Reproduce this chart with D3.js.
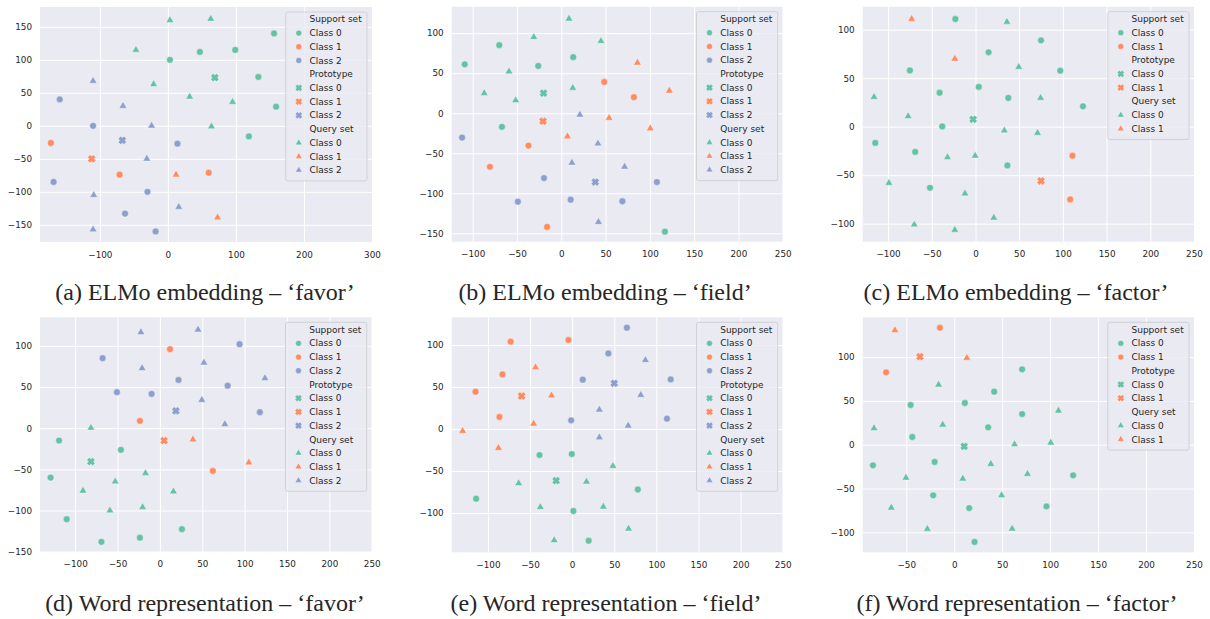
<!DOCTYPE html>
<html>
<head>
<meta charset="utf-8">
<script src="https://cdn.jsdelivr.net/npm/d3@7"></script>
<style>
  body { margin: 0; background: #fff; }
  svg { display: block; }
  text { font-family: "DejaVu Sans", sans-serif; fill: #262626; }
</style>
</head>
<body>
<svg id="fig" width="1210" height="619"></svg>
<script>
// rows: [x, y, class, set]   set: S = support, P = prototype, Q = query
const elmoFavor = [
  [3,100,0,"S"],[47,112,0,"S"],[99,115,0,"S"],[156,140,0,"S"],[133,74,0,"S"],[159,29,0,"S"],[119,-16,0,"S"],
  [-172,-26,1,"S"],[-71,-74,1,"S"],[60,-71,1,"S"],
  [-159,40,2,"S"],[-110,0,2,"S"],[14,-27,2,"S"],[-168,-85,2,"S"],[-30,-100,2,"S"],[-63,-133,2,"S"],[-18,-160,2,"S"],
  [69,73,0,"P"],[-112,-50,1,"P"],[-67,-22,2,"P"],
  [3,160,0,"Q"],[63,162,0,"Q"],[-47,115,0,"Q"],[-21,63,0,"Q"],[32,44,0,"Q"],[95,36,0,"Q"],[64,-1,0,"Q"],
  [12,-74,1,"Q"],[73,-139,1,"Q"],
  [-110,68,2,"Q"],[-66,30,2,"Q"],[-24,0,2,"Q"],[-31,-50,2,"Q"],[-109,-105,2,"Q"],[16,-123,2,"Q"],[-110,-157,2,"Q"]
];
const elmoField = [
  [-70,85,0,"S"],[-109,61,0,"S"],[13.5,70,0,"S"],[-26,59,0,"S"],[-67,-17,0,"S"],[117,-148,0,"S"],
  [48.5,39,1,"S"],[82,20,1,"S"],[-37,-40.5,1,"S"],[-80.5,-67,1,"S"],[-16,-142,1,"S"],
  [-112,-30.5,2,"S"],[-19.5,-81,2,"S"],[-49,-110.5,2,"S"],[10.6,-108,2,"S"],[108,-86,2,"S"],[69,-110,2,"S"],
  [-20,25,0,"P"],[-20.6,-10,1,"P"],[38.4,-86,2,"P"],
  [8.7,118,0,"Q"],[-31,95,0,"Q"],[44.8,90,0,"Q"],[-59,52,0,"Q"],[-87,25,0,"Q"],[13,31.6,0,"Q"],[-51.5,16,0,"Q"],
  [86,63,1,"Q"],[122,28,1,"Q"],[54,-6,1,"Q"],[100.5,-19,1,"Q"],[7,-29,1,"Q"],
  [21,-2,2,"Q"],[41.4,-38,2,"Q"],[12,-62,2,"Q"],[71.5,-67,2,"Q"],[42,-136,2,"Q"]
];
const elmoFactor = [
  [-23,111,0,"S"],[15,76.7,0,"S"],[-75,58,0,"S"],[3.8,41,0,"S"],[-41,35,0,"S"],[37.6,29.6,0,"S"],[-38,0.3,0,"S"],
  [-114.6,-16.8,0,"S"],[-69,-26,0,"S"],[36.5,-40,0,"S"],[-52,-63,0,"S"],[75,89,0,"S"],[97,57.7,0,"S"],[123,21,0,"S"],
  [111,-30,1,"S"],[108.4,-75,1,"S"],
  [-2.7,7.6,0,"P"],[75,-56,1,"P"],
  [36,108,0,"Q"],[-116,30.6,0,"Q"],[-77,10.7,0,"Q"],[33,-4,0,"Q"],[-32,-31.6,0,"Q"],[-0.4,-30,0,"Q"],[-99,-58,0,"Q"],
  [-12,-69,0,"Q"],[21,-94,0,"Q"],[-70,-101,0,"Q"],[-23.6,-106.5,0,"Q"],[49.5,61.5,0,"Q"],[74.5,29.6,0,"Q"],[71,-6.5,0,"Q"],
  [-73,111,1,"Q"],[-23.6,70,1,"Q"]
];
const wordFavor = [
  [-119,-15,0,"S"],[-46,-26.3,0,"S"],[-129,-60,0,"S"],[-110,-110.5,0,"S"],[26,-122.6,0,"S"],[-23.6,-133,0,"S"],[-69,-138,0,"S"],
  [12,96,1,"S"],[-23.6,8.9,1,"S"],[62.5,-52,1,"S"],
  [-67.6,85,2,"S"],[22,58.6,2,"S"],[-50.7,43.7,2,"S"],[-9.8,41.6,2,"S"],[94,102,2,"S"],[80,51.7,2,"S"],[118,19.4,2,"S"],
  [-81.4,-40.5,0,"P"],[5,-15,1,"P"],[18.9,21,2,"P"],
  [-81.4,0.4,0,"Q"],[-17,-54.6,0,"Q"],[-52.7,-64.8,0,"Q"],[-90.8,-76,0,"Q"],[16,-77,0,"Q"],[-59,-100,0,"Q"],[-20.4,-96,0,"Q"],
  [39,-13.8,1,"Q"],[105,-41.7,1,"Q"],
  [-22.4,116.5,2,"Q"],[45,119.7,2,"Q"],[-21,72.8,2,"Q"],[52,79.6,2,"Q"],[124,60.7,2,"Q"],[49.5,34.3,2,"Q"],[76.7,4.8,2,"Q"]
];
const wordField = [
  [-38.7,-31,0,"S"],[-0.4,-29.8,0,"S"],[-114,-83,0,"S"],[1.5,-97.6,0,"S"],[19.6,-133,0,"S"],[78,-72,0,"S"],
  [-73,104,1,"S"],[-4.4,106,1,"S"],[-82.7,65,1,"S"],[-114.7,44.4,1,"S"],[-86.3,14.3,1,"S"],
  [12.6,58.7,2,"S"],[-1.2,10.3,2,"S"],[65,120.6,2,"S"],[43,90,2,"S"],[117,59,2,"S"],[112.6,12.3,2,"S"],
  [-19,-61.5,0,"P"],[-60,39.3,1,"P"],[50,54.4,2,"P"],
  [-63.5,-64.7,0,"Q"],[17,-62.7,0,"Q"],[-37.8,-93,0,"Q"],[-21.3,-132.5,0,"Q"],[48.4,-44,0,"Q"],[37,-92.5,0,"Q"],[67,-118.7,0,"Q"],
  [-43.4,73.4,1,"Q"],[-24.5,40,1,"Q"],[-45.7,6.3,1,"Q"],[-130,-2.4,1,"Q"],[-87.5,-22.6,1,"Q"],
  [87,82,2,"Q"],[81.5,40.5,2,"Q"],[32.3,23,2,"Q"],[66.5,4,2,"Q"],[32.3,-10,2,"Q"]
];
const wordFactor = [
  [41.7,60.5,0,"S"],[-45.4,45.3,0,"S"],[11.1,47.6,0,"S"],[35.4,19.8,0,"S"],[-43.7,8.8,0,"S"],[-84.7,-23.5,0,"S"],[-20.4,-19.7,0,"S"],
  [-21.9,-57.8,0,"S"],[15.6,-72.3,0,"S"],[21.2,-111,0,"S"],[70.8,86,0,"S"],[70.8,35,0,"S"],[124,-35,0,"S"],[96.2,-70.4,0,"S"],
  [-14.9,133.6,1,"S"],[-71,82.6,1,"S"],
  [10.4,-1.9,0,"P"],[-35.7,100.5,1,"P"],
  [-16.3,68.5,0,"Q"],[-83.6,18.7,0,"Q"],[-12,22.8,0,"Q"],[38.2,-22,0,"Q"],[-50.3,-37.7,0,"Q"],[9,-38.8,0,"Q"],[49.4,-57.8,0,"Q"],
  [-65.6,-71.9,0,"Q"],[-28,-96.2,0,"Q"],[108.7,38.8,0,"Q"],[62.9,0.4,0,"Q"],[100.7,2.3,0,"Q"],[76.4,-33.4,0,"Q"],[60.4,-95.9,0,"Q"],
  [-61.8,130.6,1,"Q"],[13.2,99,1,"Q"]
];

const classNames = ["Class 0", "Class 1", "Class 2"];
const setKeys = ["S", "P", "Q"];
const setTitles = ["Support set", "Prototype", "Query set"];
const captions = [
  "(a) ELMo embedding \u2013 \u2018favor\u2019",
  "(b) ELMo embedding \u2013 \u2018field\u2019",
  "(c) ELMo embedding \u2013 \u2018factor\u2019",
  "(d) Word representation \u2013 \u2018favor\u2019",
  "(e) Word representation \u2013 \u2018field\u2019",
  "(f) Word representation \u2013 \u2018factor\u2019"
];

const palette = ["#66c2a5", "#fc8d62", "#8da0cb"];

// plot boxes and axis limits
const panels = [
  { data: elmoFavor, nc: 3, box: [40, 7, 372, 242], xd: [-188, 300], yd: [-176, 180],
    xt: [-100, 0, 100, 200, 300], yt: [-150, -100, -50, 0, 50, 100, 150], cx: 205, cy: 300 },
  { data: elmoField, nc: 3, box: [451.7, 6.7, 782.7, 241.7], xd: [-123.7, 250], yd: [-160.5, 133],
    xt: d3.range(-100, 251, 50), yt: d3.range(-150, 101, 50), cx: 605, cy: 300 },
  { data: elmoFactor, nc: 2, box: [862.7, 6.7, 1194, 241.7], xd: [-129, 250], yd: [-118.6, 123.7],
    xt: d3.range(-100, 251, 50), yt: d3.range(-100, 101, 50), cx: 1016, cy: 300 },
  { data: wordFavor, nc: 3, box: [40, 317.3, 371.7, 551.7], xd: [-141.5, 250], yd: [-150, 134.7],
    xt: d3.range(-100, 251, 50), yt: d3.range(-150, 101, 50), cx: 205, cy: 611 },
  { data: wordField, nc: 3, box: [451.7, 317.3, 782.7, 552.3], xd: [-143, 250], yd: [-146.8, 133],
    xt: d3.range(-100, 251, 50), yt: d3.range(-100, 101, 50), cx: 606, cy: 611 },
  { data: wordFactor, nc: 2, box: [862.7, 317.3, 1194, 552.3], xd: [-95.4, 250], yd: [-122.8, 145.4],
    xt: d3.range(-50, 251, 50), yt: d3.range(-100, 101, 50), cx: 1017, cy: 611 }
];

const svg = d3.select("#fig");

// filled "X" marker like matplotlib's
function xPath(s, w) {
  const pts = [[-w,-s],[w,-s],[w,-w],[s,-w],[s,w],[w,w],[w,s],[-w,s],[-w,w],[-s,w],[-s,-w],[-w,-w]];
  const c = Math.SQRT1_2;
  return "M" + pts.map(([a, b]) => [(a - b) * c, (a + b) * c].map(v => v.toFixed(2)).join(",")).join("L") + "Z";
}
const tri = d3.symbol().type(d3.symbolTriangle);

function marker(sel, set, scale) {
  if (set === "S") return sel.append("circle").attr("r", 3.4 * scale);
  if (set === "P") return sel.append("path").attr("d", xPath(4.1 * scale, 1.8 * scale));
  return sel.append("path").attr("d", tri.size(26 * scale * scale)());
}

panels.forEach((p, i) => {
  const [x0, y0, x1, y1] = p.box;
  const x = d3.scaleLinear().domain(p.xd).range([x0, x1]);
  const y = d3.scaleLinear().domain(p.yd).range([y1, y0]);
  const g = svg.append("g");

  g.append("rect")
    .attr("x", x0).attr("y", y0)
    .attr("width", x1 - x0).attr("height", y1 - y0)
    .attr("fill", "#eaeaf2");

  const styleAxis = s => {
    s.select(".domain").remove();
    s.selectAll(".tick line").attr("stroke", "#fff").attr("stroke-width", 1);
    s.selectAll(".tick text").style("font-size", "8.8px").attr("fill", "#262626");
  };

  g.append("g")
    .attr("transform", `translate(0,${y1})`)
    .call(d3.axisBottom(x).tickValues(p.xt).tickSize(-(y1 - y0)).tickSizeOuter(0).tickPadding(9.5))
    .call(styleAxis);

  g.append("g")
    .attr("transform", `translate(${x0},0)`)
    .call(d3.axisLeft(y).tickValues(p.yt).tickSize(-(x1 - x0)).tickSizeOuter(0).tickPadding(8))
    .call(styleAxis);

  const pts = g.append("g");
  p.data.forEach(d => {
    const gp = pts.append("g").attr("transform", `translate(${x(d[0])},${y(d[1])})`);
    marker(gp, d[3], 1)
      .attr("fill", palette[d[2]])
      .attr("stroke", "#fff").attr("stroke-width", 0.4);
  });

  // legend
  const rowH = 13.72;
  const nRows = 3 * (p.nc + 1);
  const lx = x1 - 5 - 81.2, ly = y0 + 5;
  const leg = g.append("g").attr("transform", `translate(${lx},${ly})`);
  leg.append("rect")
    .attr("width", 81.2).attr("height", nRows * rowH + 4.3)
    .attr("rx", 2)
    .attr("fill", "#eaeaf2").attr("fill-opacity", 0.8)
    .attr("stroke", "#cccccc").attr("stroke-width", 0.8);
  let r = 0;
  setKeys.forEach((k, si) => {
    const ty = 7.3 + r * rowH;
    leg.append("text").attr("x", 23.7).attr("y", ty).attr("dy", "0.35em")
      .style("font-size", "9px").text(setTitles[si]);
    r++;
    for (let c = 0; c < p.nc; c++) {
      const cy = 7.3 + r * rowH;
      const m = leg.append("g").attr("transform", `translate(13,${cy})`);
      marker(m, k, 0.85).attr("fill", palette[c]).attr("stroke", "#fff").attr("stroke-width", 0.3);
      leg.append("text").attr("x", 23.7).attr("y", cy).attr("dy", "0.35em")
        .style("font-size", "9px").text(classNames[c]);
      r++;
    }
  });

  svg.append("text")
    .attr("x", p.cx).attr("y", p.cy)
    .attr("text-anchor", "middle")
    .style("font-family", "'Liberation Serif', 'DejaVu Serif', serif")
    .style("font-size", "24px")
    .attr("fill", "#000")
    .text(captions[i]);
});
</script>
</body>
</html>
